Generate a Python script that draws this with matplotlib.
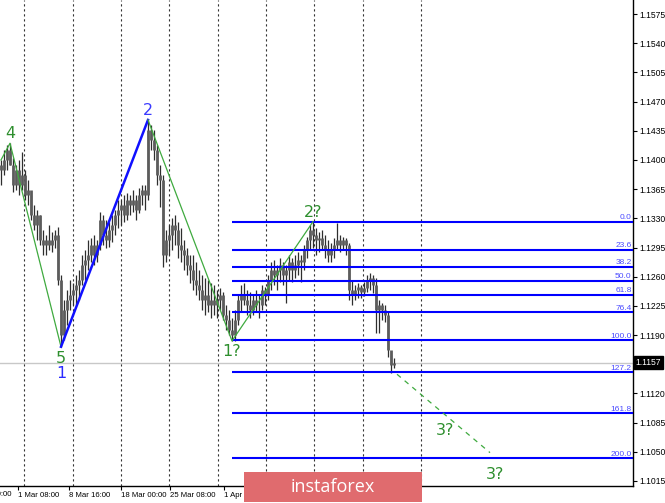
import numpy as np
import matplotlib.pyplot as plt
from matplotlib.patches import Rectangle
from matplotlib.transforms import blended_transform_factory

# H4 bars (high, low, close)
highs = [1.1400, 1.1412, 1.1418, 1.1420, 1.1402, 1.1394, 1.1400, 1.1410, 1.1388, 1.1376,
         1.1358, 1.1346, 1.1340, 1.1334, 1.1316, 1.1310, 1.1322, 1.1314, 1.1316, 1.1320,
         1.1262, 1.1232, 1.1244, 1.1256, 1.1252, 1.1262, 1.1268, 1.1286, 1.1292, 1.1304,
         1.1306, 1.1310, 1.1304, 1.1338, 1.1334, 1.1328, 1.1326, 1.1334, 1.1340, 1.1352,
         1.1352, 1.1358, 1.1360, 1.1358, 1.1364, 1.1358, 1.1366, 1.1370, 1.1370, 1.1448,
         1.1442, 1.1436, 1.1418, 1.1394, 1.1382, 1.1316, 1.1322, 1.1330, 1.1334, 1.1326,
         1.1318, 1.1304, 1.1294, 1.1286, 1.1286, 1.1278, 1.1268, 1.1262, 1.1258, 1.1256,
         1.1252, 1.1250, 1.1244, 1.1246, 1.1242, 1.1226, 1.1220, 1.1210, 1.1220, 1.1238,
         1.1250, 1.1252, 1.1244, 1.1242, 1.1238, 1.1244, 1.1238, 1.1250, 1.1248, 1.1262,
         1.1278, 1.1280, 1.1274, 1.1282, 1.1278, 1.1274, 1.1286, 1.1282, 1.1286, 1.1290,
         1.1286, 1.1298, 1.1308, 1.1322, 1.1326, 1.1318, 1.1314, 1.1316, 1.1310, 1.1304,
         1.1300, 1.1306, 1.1324, 1.1310, 1.1308, 1.1306, 1.1300, 1.1256, 1.1250, 1.1252,
         1.1250, 1.1254, 1.1262, 1.1264, 1.1262, 1.1258, 1.1232, 1.1228, 1.1226, 1.1218,
         1.1166, 1.1162]
lows = [1.1370, 1.1382, 1.1388, 1.1394, 1.1362, 1.1364, 1.1358, 1.1364, 1.1352, 1.1346,
        1.1328, 1.1316, 1.1304, 1.1298, 1.1286, 1.1286, 1.1292, 1.1290, 1.1294, 1.1250,
        1.1176, 1.1184, 1.1202, 1.1220, 1.1226, 1.1226, 1.1232, 1.1250, 1.1256, 1.1268,
        1.1278, 1.1274, 1.1278, 1.1292, 1.1298, 1.1294, 1.1296, 1.1302, 1.1310, 1.1318,
        1.1322, 1.1326, 1.1328, 1.1334, 1.1338, 1.1328, 1.1336, 1.1346, 1.1340, 1.1352,
        1.1412, 1.1400, 1.1370, 1.1344, 1.1272, 1.1278, 1.1286, 1.1292, 1.1298, 1.1282,
        1.1278, 1.1268, 1.1262, 1.1252, 1.1244, 1.1238, 1.1232, 1.1220, 1.1214, 1.1218,
        1.1210, 1.1214, 1.1210, 1.1220, 1.1208, 1.1196, 1.1190, 1.1183, 1.1183, 1.1202,
        1.1218, 1.1226, 1.1214, 1.1210, 1.1214, 1.1218, 1.1210, 1.1220, 1.1226, 1.1232,
        1.1244, 1.1250, 1.1244, 1.1254, 1.1250, 1.1228, 1.1256, 1.1254, 1.1258, 1.1262,
        1.1254, 1.1268, 1.1282, 1.1292, 1.1294, 1.1286, 1.1290, 1.1292, 1.1282, 1.1278,
        1.1278, 1.1282, 1.1292, 1.1290, 1.1292, 1.1286, 1.1232, 1.1226, 1.1232, 1.1234,
        1.1234, 1.1237, 1.1242, 1.1244, 1.1240, 1.1192, 1.1192, 1.1208, 1.1206, 1.1164,
        1.1145, 1.1150]
closes = [1.1388, 1.1400, 1.1412, 1.1394, 1.1370, 1.1388, 1.1370, 1.1382, 1.1358, 1.1364,
          1.1334, 1.1322, 1.1334, 1.1304, 1.1298, 1.1304, 1.1298, 1.1304, 1.1310, 1.1256,
          1.1190, 1.1220, 1.1232, 1.1238, 1.1244, 1.1250, 1.1256, 1.1274, 1.1280, 1.1286,
          1.1298, 1.1286, 1.1298, 1.1328, 1.1310, 1.1304, 1.1316, 1.1322, 1.1334, 1.1340,
          1.1346, 1.1334, 1.1352, 1.1346, 1.1352, 1.1340, 1.1358, 1.1364, 1.1358, 1.1436,
          1.1424, 1.1412, 1.1382, 1.1376, 1.1286, 1.1304, 1.1310, 1.1322, 1.1316, 1.1298,
          1.1292, 1.1286, 1.1274, 1.1268, 1.1256, 1.1250, 1.1244, 1.1232, 1.1238, 1.1226,
          1.1232, 1.1226, 1.1232, 1.1238, 1.1214, 1.1208, 1.1196, 1.1190, 1.1208, 1.1232,
          1.1238, 1.1232, 1.1226, 1.1220, 1.1232, 1.1226, 1.1226, 1.1244, 1.1238, 1.1256,
          1.1268, 1.1262, 1.1268, 1.1274, 1.1262, 1.1268, 1.1278, 1.1268, 1.1274, 1.1280,
          1.1278, 1.1292, 1.1304, 1.1316, 1.1310, 1.1304, 1.1306, 1.1298, 1.1292, 1.1286,
          1.1292, 1.1298, 1.1304, 1.1298, 1.1304, 1.1298, 1.1244, 1.1238, 1.1244, 1.1248,
          1.1242, 1.1246, 1.1256, 1.1258, 1.1250, 1.1220, 1.1226, 1.1220, 1.1214, 1.1172,
          1.1154, 1.1157]
opens = [1.1394] + closes[:-1]

# Elliott wave marks (bar index, price)
wave_green_a = [(0, 1.1400), (3, 1.1420), (20, 1.1176)]
wave_blue = [(20, 1.1176), (49, 1.1448)]
wave_green_b = [(49, 1.1448), (77, 1.1183), (104, 1.1326)]
wave3_proj = [(132, 1.1143), (163, 1.1049)]

# Fibonacci grid between 1? and 2?
fib_high = 1.1326
fib_low = 1.1184
fib_levels = [0.0, 23.6, 38.2, 50.0, 61.8, 76.4, 100.0, 127.2, 161.8, 200.0]

y_ticks = [1.1015, 1.1050, 1.1085, 1.1120, 1.1190, 1.1225, 1.1260, 1.1295,
           1.1330, 1.1365, 1.1400, 1.1435, 1.1470, 1.1505, 1.1540, 1.1575]
last_price = 1.1157

date_labels = ['1 Mar 08:00', '8 Mar 16:00', '18 Mar 00:00', '25 Mar 08:00', '1 Apr 16:00']
date_pos = [5.7, 22.7, 40.0, 56.3, 74.3]
grid_pos = [7.7, 24.0, 40.0, 56.0, 72.3, 88.3, 104.3, 120.7, 140.0]

W, H = 665, 503
fig = plt.figure(figsize=(W / 100, H / 100), dpi=100)
ax = fig.add_axes([0, 17 / H, 633 / W, 486 / H])

for g in grid_pos:
    ax.axvline(g, color='#333333', lw=0.8, ls=(0, (2, 2.5)), zorder=1)

ax.axhline(last_price, color='#c8c8c8', lw=1, zorder=1)

x = np.arange(len(closes))
ax.vlines(x, lows, highs, color='#2e2e2e', lw=0.9, zorder=3)
ax.vlines(x, np.minimum(opens, closes), np.maximum(opens, closes), color='#5c5c5c', lw=2.0, zorder=3)

# fib lines
rng = fib_high - fib_low
for lv in fib_levels:
    p = fib_high - rng * lv / 100
    ax.plot([77, 211], [p, p], color='#0000ff', lw=1.5, zorder=4, solid_capstyle='butt')
    ax.text(210.2, p + 0.00006, f'{lv:.1f}', color='#4b4bff', fontsize=6, family='Liberation Sans',
            ha='right', va='bottom', zorder=5)

gx, gy = zip(*wave_green_a)
ax.plot(gx, gy, color='#3faa3f', lw=0.9, zorder=5)
bx, by = zip(*wave_blue)
ax.plot(bx, by, color='#1010ff', lw=1.8, zorder=5)
gx, gy = zip(*wave_green_b)
ax.plot(gx, gy, color='#3faa3f', lw=0.9, zorder=5)
px_, py_ = zip(*wave3_proj)
ax.plot(px_, py_, color='#3faa3f', lw=0.9, ls=(0, (4, 4)), zorder=5)

def label(txt, xy, dy, color):
    ax.annotate(txt, xy, xytext=(0, dy), textcoords='offset pixels', ha='center', va='center',
                fontsize=11.5, color=color, zorder=6)

label('4', wave_green_a[1], 10, '#2e8f2e')
label('2', wave_blue[1], 9, '#3a3aff')
label('5', wave_green_a[2], -12, '#2e8f2e')
label('1', wave_green_a[2], -27, '#2a2aff')
label('1?', wave_green_b[1], -11, '#2e8f2e')
label('2?', wave_green_b[2], 9, '#2e8f2e')
ax.annotate('3?', (148, 1.1075), ha='center', va='center', fontsize=11.5, color='#2e8f2e')
ax.annotate('3?', (164.7, 1.1023), ha='center', va='center', fontsize=11.5, color='#2e8f2e')

# axes styling
for s in ['left', 'top']:
    ax.spines[s].set_visible(False)
ax.spines['right'].set_linewidth(1)
ax.spines['bottom'].set_linewidth(1)
ax.yaxis.tick_right()
ax.set_yticks(y_ticks)
ax.set_yticklabels([f'{v:.4f}' for v in y_ticks], family='Liberation Sans')
ax.tick_params(axis='y', length=3, width=0.8, pad=1.5, labelsize=6.2)
ax.set_xticks(date_pos)
ax.set_xticklabels(date_labels, ha='left', family='Liberation Sans')
ax.tick_params(axis='x', length=3, width=0.8, pad=1, labelsize=5.6)
# partial label cut by the left edge
ax.annotate('28 Feb 00:00', (date_pos[0], 0), xycoords=('data', 'axes fraction'),
            xytext=(-52, -8), textcoords='offset pixels', ha='left', va='center',
            fontsize=5.6, family='Liberation Sans', annotation_clip=False)

ax.set_xlim(-1 / 3, 632 / 3)
ax.set_ylim(1.10090, 1.15918)

trans = blended_transform_factory(ax.transAxes, ax.transData)
ax.text(1.004, last_price, f'{last_price:.4f}', transform=trans, fontsize=6.2, color='white',
        family='Liberation Sans', va='center', ha='left',
        bbox=dict(boxstyle='square,pad=0.2', fc='black', ec='black'), zorder=10)

# watermark logo
fig.add_artist(Rectangle((244 / W, 1 / H), 178 / W, 30 / H, transform=fig.transFigure,
                         facecolor='#e06b6e', edgecolor='none', zorder=10))
fig.text(333 / W, 1 - 487 / H, 'instaforex', color='white', fontsize=13, family='Open Sans',
         ha='center', va='center', zorder=11)

fig.savefig('out.png', dpi=100)
